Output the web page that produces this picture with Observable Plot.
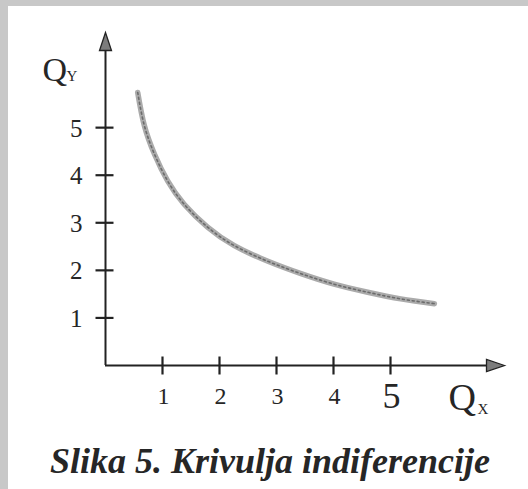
<!DOCTYPE html>
<html>
<head>
<meta charset="utf-8">
<script src="https://cdn.jsdelivr.net/npm/d3@7"></script>
<script src="https://cdn.jsdelivr.net/npm/@observablehq/plot@0.6"></script>
<style>
  html, body { margin: 0; padding: 0; background: #fff; }
  #wrap { position: relative; width: 528px; height: 489px; overflow: hidden; background: #fff; }
  #chart { position: absolute; left: 0; top: 0; }
  .bt { position: absolute; left: 0; top: 0; width: 528px; height: 6px; background: #c8c8c8; }
  .bl { position: absolute; left: 0; top: 0; width: 8px; height: 489px; background: #c8c8c8; }
  #caption { position: absolute; left: 0; width: 540px; top: 443px; text-align: center;
    font-family: "Liberation Serif", serif; font-style: italic; font-weight: bold;
    font-size: 36px; color: #262626; line-height: 1; white-space: nowrap; }
</style>
</head>
<body>
<div id="wrap">
  <div id="chart"></div>
  <div id="caption">Slika 5. Krivulja indiferencije</div>
  <div class="bt"></div>
  <div class="bl"></div>
</div>
<script>
// ---- data ----
const xTicks = [1, 2, 3, 4, 5];
const yTicks = [1, 2, 3, 4, 5];
const curveX = [0.565, 0.68, 0.86, 1.09, 1.38, 1.79, 2.26, 2.85, 3.43, 4.01, 4.60, 5.18, 5.77];
const curveY = [5.74, 5.05, 4.44, 3.88, 3.39, 2.91, 2.52, 2.19, 1.93, 1.71, 1.54, 1.40, 1.30];
const xMax = 7;
const yMax = 7;
const xLabel = "Q", xSub = "X";
const yLabel = "Q", ySub = "Y";

const curve = curveX.map((x, i) => ({x, y: curveY[i]}));

// custom pixel symbols
const vTick = {draw(ctx) { ctx.moveTo(0, -9); ctx.lineTo(0, 9); }};
const hTick = {draw(ctx) { ctx.moveTo(-10, 0); ctx.lineTo(8, 0); }};
const head = {draw(ctx) { ctx.moveTo(0, 0); ctx.lineTo(-6, 18); ctx.lineTo(6, 18); ctx.closePath(); }};

const ink = "#222";

const chart = Plot.plot({
  width: 528,
  height: 430,
  marginLeft: 105,
  marginRight: 24,
  marginTop: 32,
  marginBottom: 65,
  x: {domain: [0, xMax], axis: null},
  y: {domain: [0, yMax], axis: null},
  style: {fontFamily: "Liberation Serif", background: "transparent", color: ink},
  marks: [
    // axes lines
    Plot.ruleY([0], {x1: 0, x2: xMax - 0.2, stroke: ink, strokeWidth: 2}),
    Plot.ruleX([0], {y1: 0, y2: yMax - 0.25, stroke: ink, strokeWidth: 2}),
    // ticks
    Plot.dot(xTicks, {x: d => d, y: 0, symbol: vTick, stroke: ink, strokeWidth: 2.2, r: 5}),
    Plot.dot(yTicks, {x: 0, y: d => d, symbol: hTick, stroke: ink, strokeWidth: 2.2, r: 5}),
    // arrow heads
    Plot.dot([0], {x: 0, y: yMax, symbol: head, fill: "#7c7c7c", stroke: ink, strokeWidth: 1.3, r: 5}),
    Plot.dot([0], {x: xMax, y: 0, symbol: head, rotate: 90, fill: "#7c7c7c", stroke: ink, strokeWidth: 1.3, r: 5}),
    // tick labels
    Plot.text(yTicks, {x: 0, y: d => d, text: d => String(d), dx: -23, dy: 1, textAnchor: "end",
      fontSize: 25, fill: "#262626"}),
    Plot.text(xTicks, {x: d => d, y: 0, text: d => String(d), dx: 1, dy: 31, textAnchor: "middle",
      fontSize: d => d === 5 ? 36 : 24, fill: "#262626"}),
    // axis labels
    Plot.text([yLabel], {x: 0, y: yMax, text: d => d, dx: -63, dy: 48, textAnchor: "start",
      lineAnchor: "bottom", fontSize: 34, fill: "#262626"}),
    Plot.text([ySub], {x: 0, y: yMax, text: d => d, dx: -39, dy: 48, textAnchor: "start",
      lineAnchor: "bottom", fontSize: 15, fill: "#262626"}),
    Plot.text([xLabel], {x: xMax, y: 0, text: d => d, dx: -56, dy: 44, textAnchor: "start",
      lineAnchor: "bottom", fontSize: 38, fill: "#262626"}),
    Plot.text([xSub], {x: xMax, y: 0, text: d => d, dx: -27, dy: 48, textAnchor: "start",
      lineAnchor: "bottom", fontSize: 15, fill: "#262626"}),
    // indifference curve
    Plot.line(curve, {x: "x", y: "y", curve: "natural", stroke: "#ababab", strokeWidth: 5.5}),
    Plot.line(curve, {x: "x", y: "y", curve: "natural", stroke: "#555", strokeWidth: 1.6,
      strokeDasharray: "2,3", strokeOpacity: 0.75})
  ]
});
document.getElementById("chart").appendChild(chart);
</script>
</body>
</html>
